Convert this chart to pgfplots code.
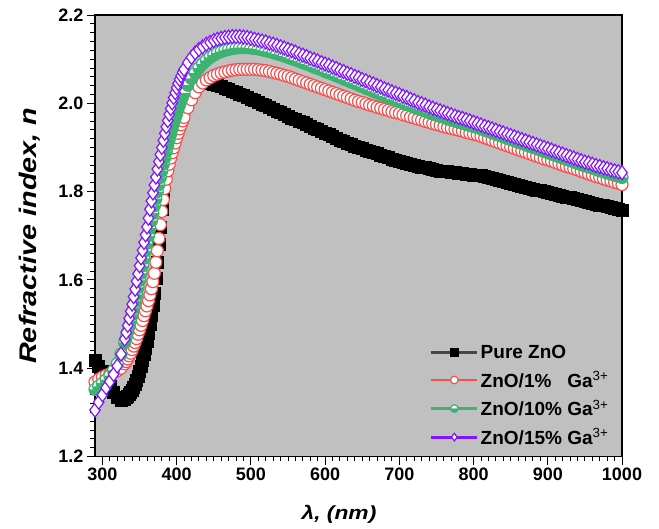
\documentclass[border=0pt]{standalone}
\usepackage{pgfplots}
\pgfplotsset{compat=1.18}
\usepackage{pgfplotstable}
\usetikzlibrary{plotmarks}
\usepackage{fontspec}
\setmainfont{Liberation Sans}
\definecolor{bggray}{RGB}{192,192,192}
\definecolor{cred}{RGB}{245,80,80}
\definecolor{cgreen}{RGB}{60,179,113}
\definecolor{cpurple}{RGB}{130,20,255}
\definecolor{cblackline}{RGB}{70,70,70}
\pgfplotstableread{
x k r g p
290 1.418 1.369 1.352 1.305
295 1.405 1.375 1.359 1.323
300 1.392 1.380 1.366 1.340
305 1.376 1.384 1.374 1.356
310 1.360 1.387 1.383 1.370
315 1.345 1.390 1.395 1.386
320 1.333 1.394 1.410 1.405
325 1.327 1.400 1.432 1.432
330 1.330 1.410 1.458 1.466
332 1.333 1.415 1.470 1.481
334 1.336 1.421 1.482 1.497
336 1.340 1.428 1.495 1.513
338 1.345 1.434 1.508 1.529
340 1.350 1.442 1.522 1.545
342 1.357 1.450 1.537 1.562
344 1.364 1.458 1.552 1.579
346 1.372 1.467 1.567 1.597
348 1.382 1.477 1.583 1.614
350 1.392 1.487 1.599 1.632
352 1.404 1.497 1.615 1.650
354 1.417 1.508 1.632 1.667
356 1.431 1.519 1.649 1.685
358 1.446 1.530 1.666 1.702
360 1.462 1.541 1.683 1.720
362 1.480 1.553 1.700 1.740
364 1.499 1.566 1.717 1.760
366 1.520 1.580 1.734 1.779
368 1.543 1.596 1.751 1.797
370 1.570 1.615 1.768 1.815
372 1.603 1.640 1.784 1.833
374 1.640 1.666 1.800 1.851
376 1.680 1.694 1.816 1.868
378 1.720 1.725 1.832 1.884
380 1.760 1.755 1.847 1.900
382 1.798 1.782 1.862 1.916
384 1.833 1.807 1.877 1.932
386 1.863 1.828 1.891 1.947
388 1.892 1.847 1.905 1.961
390 1.915 1.862 1.918 1.975
392 1.935 1.876 1.931 1.988
394 1.952 1.888 1.943 2.001
396 1.967 1.899 1.955 2.013
398 1.979 1.910 1.966 2.024
400 1.990 1.922 1.977 2.035
402 1.999 1.932 1.987 2.045
404 2.008 1.942 1.997 2.054
406 2.015 1.951 2.006 2.062
408 2.021 1.960 2.015 2.070
410 2.027 1.968 2.023 2.077
415 2.036 1.990 2.041 2.092
420 2.041 2.008 2.056 2.104
425 2.044 2.024 2.069 2.114
430 2.046 2.037 2.080 2.122
435 2.046 2.046 2.089 2.128
440 2.046 2.053 2.097 2.134
445 2.045 2.058 2.104 2.138
450 2.043 2.063 2.109 2.142
455 2.041 2.066 2.114 2.145
460 2.038 2.069 2.117 2.147
465 2.035 2.071 2.120 2.149
470 2.032 2.073 2.122 2.150
475 2.028 2.075 2.124 2.151
480 2.025 2.076 2.125 2.151
485 2.021 2.077 2.126 2.151
490 2.018 2.077 2.126 2.150
495 2.014 2.077 2.126 2.149
500 2.010 2.077 2.125 2.147
505 2.006 2.077 2.124 2.145
510 2.002 2.076 2.123 2.143
515 1.998 2.075 2.121 2.141
520 1.995 2.074 2.119 2.139
525 1.991 2.072 2.117 2.136
530 1.987 2.070 2.115 2.134
535 1.983 2.068 2.112 2.131
540 1.979 2.066 2.110 2.128
545 1.975 2.063 2.107 2.125
550 1.971 2.061 2.104 2.122
555 1.967 2.058 2.101 2.119
560 1.963 2.055 2.098 2.116
565 1.960 2.052 2.095 2.112
570 1.956 2.049 2.092 2.109
575 1.952 2.046 2.089 2.106
580 1.948 2.043 2.086 2.102
585 1.944 2.040 2.082 2.099
590 1.940 2.037 2.079 2.096
595 1.936 2.034 2.076 2.092
600 1.932 2.031 2.072 2.089
605 1.929 2.028 2.069 2.086
610 1.925 2.025 2.066 2.082
615 1.921 2.022 2.062 2.079
620 1.917 2.019 2.059 2.075
625 1.914 2.016 2.055 2.072
630 1.910 2.013 2.052 2.068
635 1.907 2.010 2.048 2.065
640 1.903 2.007 2.045 2.061
645 1.900 2.004 2.041 2.058
650 1.897 2.002 2.038 2.054
655 1.894 1.999 2.034 2.051
660 1.892 1.996 2.031 2.047
665 1.889 1.994 2.027 2.044
670 1.886 1.991 2.024 2.040
675 1.883 1.989 2.020 2.037
680 1.880 1.986 2.017 2.033
685 1.877 1.984 2.014 2.030
690 1.874 1.981 2.010 2.026
695 1.871 1.979 2.007 2.023
700 1.869 1.977 2.004 2.020
705 1.866 1.974 2.001 2.016
710 1.864 1.972 1.997 2.013
715 1.862 1.969 1.994 2.009
720 1.860 1.967 1.991 2.006
725 1.858 1.964 1.988 2.002
730 1.856 1.962 1.985 1.999
735 1.854 1.959 1.982 1.996
740 1.852 1.957 1.979 1.992
745 1.850 1.954 1.976 1.989
750 1.849 1.952 1.973 1.986
755 1.847 1.950 1.970 1.983
760 1.846 1.947 1.968 1.980
765 1.845 1.945 1.965 1.977
770 1.844 1.943 1.962 1.974
775 1.843 1.941 1.960 1.971
780 1.842 1.939 1.957 1.968
785 1.841 1.937 1.955 1.966
790 1.840 1.934 1.952 1.963
795 1.839 1.932 1.950 1.960
800 1.838 1.930 1.947 1.957
805 1.837 1.928 1.945 1.954
810 1.836 1.925 1.942 1.951
815 1.834 1.922 1.939 1.948
820 1.832 1.919 1.936 1.945
825 1.830 1.916 1.933 1.942
830 1.828 1.913 1.930 1.939
835 1.826 1.910 1.927 1.936
840 1.823 1.907 1.924 1.933
845 1.820 1.904 1.921 1.930
850 1.818 1.901 1.918 1.927
855 1.816 1.898 1.915 1.924
860 1.814 1.895 1.912 1.921
865 1.812 1.892 1.909 1.918
870 1.810 1.889 1.906 1.915
875 1.808 1.886 1.903 1.912
880 1.806 1.883 1.900 1.909
885 1.804 1.880 1.897 1.906
890 1.802 1.877 1.894 1.903
895 1.800 1.874 1.891 1.900
900 1.798 1.872 1.888 1.897
905 1.796 1.869 1.885 1.894
910 1.794 1.866 1.882 1.891
915 1.792 1.863 1.879 1.888
920 1.790 1.860 1.876 1.885
925 1.788 1.857 1.873 1.882
930 1.786 1.855 1.870 1.879
935 1.784 1.852 1.867 1.876
940 1.782 1.849 1.864 1.873
945 1.780 1.846 1.861 1.870
950 1.778 1.843 1.858 1.867
955 1.776 1.840 1.856 1.865
960 1.774 1.837 1.853 1.862
965 1.772 1.834 1.850 1.859
970 1.770 1.832 1.847 1.857
975 1.768 1.829 1.845 1.854
980 1.766 1.826 1.842 1.852
985 1.764 1.824 1.840 1.849
990 1.762 1.821 1.837 1.847
995 1.760 1.819 1.835 1.845
1000 1.758 1.816 1.832 1.843
}\datatable
\begin{document}
\begin{tikzpicture}
\useasboundingbox (-95pt,-71.5pt) rectangle (564pt,456.5pt);
\begin{axis}[
  at={(0,0)}, anchor=south west,
  scale only axis, width=527pt, height=441.5pt,
  xmin=290, xmax=1000, ymin=1.2, ymax=2.2,
  xtick={300,400,...,1000}, ytick={1.2,1.4,1.6,1.8,2.0,2.2},
  minor x tick num=9, minor y tick num=9,
  tick align=outside, xtick pos=left, ytick pos=left,
  major tick length=8pt, minor tick length=4.5pt,
  every tick/.style={black, line width=0.9pt},
  axis line style={line width=1.2pt},
  axis background/.style={fill=bggray},
  /pgf/number format/assume math mode=true,
  /pgf/number format/1000 sep={},
  ticklabel style={font=\fontsize{18}{20}\selectfont\bfseries},
  yticklabel style={/pgf/number format/fixed,/pgf/number format/fixed zerofill,/pgf/number format/precision=1},
  every axis x label/.style={at={(axis description cs:0.463,0)}, anchor=north, yshift=-45.5pt},
  every axis y label/.style={at={(axis description cs:-0.0968,0.5)}, rotate=90, anchor=south},
  xlabel={\fontsize{19}{22}\selectfont\bfseries\itshape\scalebox{1.2}[1]{λ, (nm)}},
  ylabel={\fontsize{24}{28}\selectfont\bfseries\itshape\scalebox{1.2}[1]{Refractive index, n}},
  legend style={draw=none, fill=none, at={(axis description cs:0.6295,0.2616)}, anchor=north west,
    font=\fontsize{19}{22}\selectfont\bfseries, cells={anchor=west}, row sep=7.5pt},
  legend image code/.code={\draw[mark repeat=2,mark phase=2,#1,mark size=3.8pt,line width=2.8pt] plot coordinates {(0pt,0pt) (23pt,0pt) (46pt,0pt)};},
]
\addplot[color=cblackline, line width=1.5pt, mark=square*, mark size=6pt, mark options={draw=black, fill=black, line width=0.6pt}] table[x=x,y=k] {\datatable};
\addlegendentry{Pure ZnO}
\addplot[color=cred, line width=1.5pt, mark=*, mark size=6pt, mark options={draw=cred, fill=white, line width=1.2pt}] table[x=x,y=r] {\datatable};
\addlegendentry{ZnO/1\%\hphantom{0} Ga\textsuperscript{\mdseries 3+}}
\addplot[color=cgreen, line width=1.5pt, mark=halfcircle*, mark size=6pt, mark color=cgreen, mark options={draw=cgreen, fill=white, line width=1.2pt}] table[x=x,y=g] {\datatable};
\addlegendentry{ZnO/10\% Ga\textsuperscript{\mdseries 3+}}
\addplot[color=cpurple, line width=1.5pt, mark=diamond*, mark size=7pt, mark options={draw=cpurple, fill=white, line width=1.2pt}] table[x=x,y=p] {\datatable};
\addlegendentry{ZnO/15\% Ga\textsuperscript{\mdseries 3+}}
\end{axis}
\end{tikzpicture}
\end{document}
